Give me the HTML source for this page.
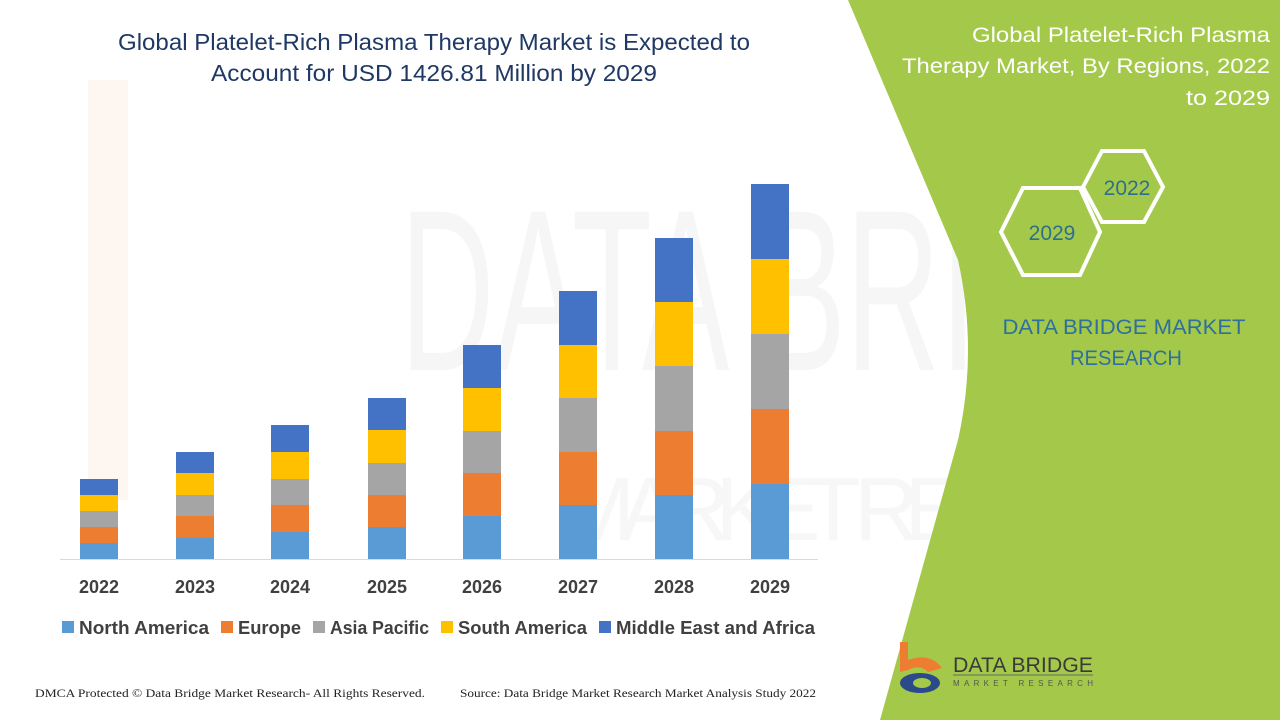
<!DOCTYPE html>
<html><head><meta charset="utf-8"><style>
html,body{margin:0;padding:0;background:#fff;}
svg{display:block;font-family:"Liberation Sans",sans-serif;}
</style></head><body>
<svg width="1280" height="720" viewBox="0 0 1280 720">
<rect width="1280" height="720" fill="#fff"/>
<!-- faint watermark -->
<rect x="88" y="80" width="40" height="420" fill="#fef6f1"/>
<text x="400" y="370" font-size="230" fill="#f6f6f6" textLength="860" lengthAdjust="spacingAndGlyphs">DATA BRIDGE</text>
<text x="560" y="540" font-size="90" fill="#f7f7f7" textLength="690" lengthAdjust="spacing">MARKET RESEARCH</text>
<!-- green panel -->
<path d="M848,0 L958,260 Q978,350 958,440 L880,720 L1280,720 L1280,0 Z" fill="#a4c94a"/>
<!-- title -->
<text x="434" y="50" font-size="23" fill="#1f3864" text-anchor="middle" textLength="632" lengthAdjust="spacingAndGlyphs">Global Platelet-Rich Plasma Therapy Market is Expected to</text>
<text x="434" y="81" font-size="23" fill="#1f3864" text-anchor="middle" textLength="446" lengthAdjust="spacingAndGlyphs">Account for USD 1426.81 Million by 2029</text>
<!-- axis -->
<line x1="60" y1="559.5" x2="818" y2="559.5" stroke="#d9d9d9" stroke-width="1"/>
<g>
<rect x="80" y="543" width="38" height="16" fill="#5b9bd5"/><rect x="80" y="527" width="38" height="16" fill="#ed7d31"/><rect x="80" y="511" width="38" height="16" fill="#a5a5a5"/><rect x="80" y="495" width="38" height="16" fill="#ffc000"/><rect x="80" y="479" width="38" height="16" fill="#4472c4"/>
<rect x="176" y="538" width="38" height="21" fill="#5b9bd5"/><rect x="176" y="516" width="38" height="22" fill="#ed7d31"/><rect x="176" y="495" width="38" height="21" fill="#a5a5a5"/><rect x="176" y="473" width="38" height="22" fill="#ffc000"/><rect x="176" y="452" width="38" height="21" fill="#4472c4"/>
<rect x="271" y="532" width="38" height="27" fill="#5b9bd5"/><rect x="271" y="505" width="38" height="27" fill="#ed7d31"/><rect x="271" y="479" width="38" height="26" fill="#a5a5a5"/><rect x="271" y="452" width="38" height="27" fill="#ffc000"/><rect x="271" y="425" width="38" height="27" fill="#4472c4"/>
<rect x="368" y="527" width="38" height="32" fill="#5b9bd5"/><rect x="368" y="495" width="38" height="32" fill="#ed7d31"/><rect x="368" y="463" width="38" height="32" fill="#a5a5a5"/><rect x="368" y="430" width="38" height="33" fill="#ffc000"/><rect x="368" y="398" width="38" height="32" fill="#4472c4"/>
<rect x="463" y="516" width="38" height="43" fill="#5b9bd5"/><rect x="463" y="473" width="38" height="43" fill="#ed7d31"/><rect x="463" y="431" width="38" height="42" fill="#a5a5a5"/><rect x="463" y="388" width="38" height="43" fill="#ffc000"/><rect x="463" y="345" width="38" height="43" fill="#4472c4"/>
<rect x="559" y="505" width="38" height="54" fill="#5b9bd5"/><rect x="559" y="452" width="38" height="53" fill="#ed7d31"/><rect x="559" y="398" width="38" height="54" fill="#a5a5a5"/><rect x="559" y="345" width="38" height="53" fill="#ffc000"/><rect x="559" y="291" width="38" height="54" fill="#4472c4"/>
<rect x="655" y="495" width="38" height="64" fill="#5b9bd5"/><rect x="655" y="431" width="38" height="64" fill="#ed7d31"/><rect x="655" y="366" width="38" height="65" fill="#a5a5a5"/><rect x="655" y="302" width="38" height="64" fill="#ffc000"/><rect x="655" y="238" width="38" height="64" fill="#4472c4"/>
<rect x="751" y="484" width="38" height="75" fill="#5b9bd5"/><rect x="751" y="409" width="38" height="75" fill="#ed7d31"/><rect x="751" y="334" width="38" height="75" fill="#a5a5a5"/><rect x="751" y="259" width="38" height="75" fill="#ffc000"/><rect x="751" y="184" width="38" height="75" fill="#4472c4"/>
</g>
<g font-size="18" font-weight="bold" fill="#404040" text-anchor="middle">
<text x="99" y="593">2022</text><text x="195" y="593">2023</text><text x="290" y="593">2024</text><text x="387" y="593">2025</text>
<text x="482" y="593">2026</text><text x="578" y="593">2027</text><text x="674" y="593">2028</text><text x="770" y="593">2029</text>
</g>
<g font-size="18" font-weight="bold" fill="#404040">
<rect x="62" y="621" width="12" height="12" fill="#5b9bd5"/><text x="79" y="634" textLength="130" lengthAdjust="spacingAndGlyphs">North America</text>
<rect x="221" y="621" width="12" height="12" fill="#ed7d31"/><text x="238" y="634" textLength="63" lengthAdjust="spacingAndGlyphs">Europe</text>
<rect x="313" y="621" width="12" height="12" fill="#a5a5a5"/><text x="330" y="634" textLength="99" lengthAdjust="spacingAndGlyphs">Asia Pacific</text>
<rect x="441" y="621" width="12" height="12" fill="#ffc000"/><text x="458" y="634" textLength="129" lengthAdjust="spacingAndGlyphs">South America</text>
<rect x="599" y="621" width="12" height="12" fill="#4472c4"/><text x="616" y="634" textLength="199" lengthAdjust="spacingAndGlyphs">Middle East and Africa</text>
</g>
<text x="35" y="697" font-family="Liberation Serif,serif" font-size="12" fill="#222" textLength="390" lengthAdjust="spacingAndGlyphs">DMCA Protected © Data Bridge Market Research- All Rights Reserved.</text>
<text x="460" y="697" font-family="Liberation Serif,serif" font-size="12" fill="#222" textLength="356" lengthAdjust="spacingAndGlyphs">Source: Data Bridge Market Research Market Analysis Study 2022</text>
<g font-size="21" fill="#fff" text-anchor="end">
<text x="1270" y="42" textLength="298" lengthAdjust="spacingAndGlyphs">Global Platelet-Rich Plasma</text>
<text x="1270" y="73" textLength="368" lengthAdjust="spacingAndGlyphs">Therapy Market, By Regions, 2022</text>
<text x="1270" y="105" textLength="84" lengthAdjust="spacingAndGlyphs">to 2029</text>
</g>
<polygon points="1102,151 1144,151 1163,187 1144,222 1102,222 1083,187" fill="none" stroke="#fff" stroke-width="4"/>
<polygon points="1023,188 1080,188 1100,232 1080,275 1023,275 1001,232" fill="none" stroke="#fff" stroke-width="4"/>
<text x="1127" y="195" font-size="21" fill="#2e6f8e" text-anchor="middle">2022</text>
<text x="1052" y="240" font-size="21" fill="#2e6f8e" text-anchor="middle">2029</text>
<text x="1124" y="334" font-size="21" fill="#2e6f9e" text-anchor="middle" textLength="243" lengthAdjust="spacingAndGlyphs">DATA BRIDGE MARKET</text>
<text x="1126" y="365" font-size="21" fill="#2e6f9e" text-anchor="middle" textLength="112" lengthAdjust="spacingAndGlyphs">RESEARCH</text>
<path d="M900,642 L908,642 L908,660 Q930,652 942,668 L928,672 Q920,664 908,670 L900,672 Z" fill="#ed7d31"/>
<ellipse cx="920" cy="683" rx="20" ry="10" fill="#2a4a8a"/>
<ellipse cx="922" cy="683" rx="9" ry="5" fill="#a4c94a"/>
<text x="953" y="672" font-size="21" fill="#3a3a3a" textLength="140" lengthAdjust="spacingAndGlyphs">DATA BRIDGE</text>
<line x1="953" y1="675" x2="1093" y2="675" stroke="#666" stroke-width="1"/>
<text x="953" y="686" font-size="8" fill="#555" textLength="140" lengthAdjust="spacing">MARKET RESEARCH</text>
</svg>
</body></html>
